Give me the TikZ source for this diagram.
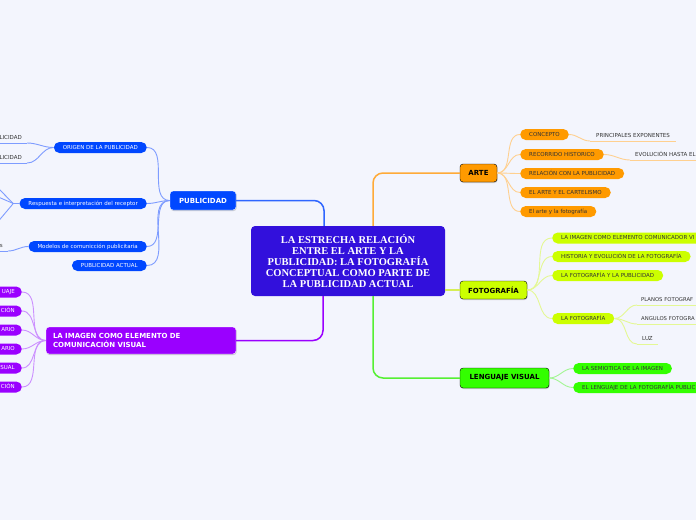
\documentclass[tikz,border=0pt]{standalone}
\usepackage{fontspec}
\setmainfont{DejaVu Sans}
\newfontfamily\titlefont{Liberation Serif}
\usetikzlibrary{shadows}
\definecolor{bg}{HTML}{F3F5FD}
\definecolor{cen}{HTML}{3210DC}
\definecolor{pubblue}{HTML}{0047FF}
\definecolor{pubconn}{HTML}{7E9CFF}
\definecolor{pubmain}{HTML}{2F66FF}
\definecolor{purp}{HTML}{9A00FF}
\definecolor{purpconn}{HTML}{CC90FF}
\definecolor{orng}{HTML}{FF9A00}
\definecolor{orngconn}{HTML}{FFD08F}
\definecolor{orngmain}{HTML}{FFAA38}
\definecolor{lime}{HTML}{CCFF00}
\definecolor{limeconn}{HTML}{E4F894}
\definecolor{limemain}{HTML}{D6EE55}
\definecolor{grn}{HTML}{33FF00}
\definecolor{grnconn}{HTML}{A2F592}
\definecolor{grnmain}{HTML}{55F033}
\definecolor{txt}{HTML}{333333}
\begin{document}
\begin{tikzpicture}[x=1pt,y=-1pt,
  centerbox/.style={fill=cen, text=white, minimum width=194pt, minimum height=70pt,
    rounded corners=4pt, align=center, inner sep=0pt,
    font=\titlefont\bfseries\fontsize{10.5}{11.2}\selectfont},
  mainbox/.style={rounded corners=3pt, inner sep=0pt,
    font=\fontsize{7}{8.5}\selectfont\bfseries,
    drop shadow={opacity=0.35, shadow xshift=0.6pt, shadow yshift=-1pt}},
  pill/.style={rounded corners=5.5pt, minimum height=11pt, inner xsep=9pt, inner ysep=0pt,
    font=\fontsize{5.5}{6}\selectfont, text height=4pt, text depth=1pt},
  leaf/.style={font=\fontsize{5.5}{6}\selectfont, text=txt, inner xsep=5pt, inner ysep=2.5pt,
    text height=4pt, text depth=1pt},
  mainconn/.style={line width=1.5pt, rounded corners=10pt},
  subconn/.style={line width=0.9pt},
  ul/.style={line width=1pt}
]
\useasboundingbox (0,0) rectangle (696,520);
\fill[bg] (0,0) rectangle (696,520);
\clip (0,0) rectangle (696,520);

% ---------- central ----------
\node[centerbox] (c) at (348,261) {LA ESTRECHA RELACIÓN\\ENTRE EL ARTE Y LA\\PUBLICIDAD: LA FOTOGRAFÍA\\CONCEPTUAL COMO PARTE DE\\LA PUBLICIDAD ACTUAL};

% ---------- main nodes ----------
\node[mainbox, fill=pubblue, text=white, draw=white, minimum width=66pt, minimum height=19pt] (pub) at (203,200.5) {PUBLICIDAD};
\node[mainbox, fill=purp, text=white, draw=white, minimum width=190pt, minimum height=27pt, text width=176pt, align=left] (img) at (141,340.5) {LA IMAGEN COMO ELEMENTO DE\\COMUNICACIÓN VISUAL};
\node[mainbox, fill=orng, draw=black, minimum width=37pt, minimum height=18pt] (arte) at (478.5,173) {ARTE};
\node[mainbox, fill=lime, draw=black, minimum width=67pt, minimum height=18pt] (foto) at (493.5,290) {FOTOGRAFÍA};
\node[mainbox, fill=grn, draw=black, minimum width=89pt, minimum height=20pt] (leng) at (504.5,378) {LENGUAJE VISUAL};

% ---------- main connectors ----------
\draw[mainconn, pubmain] ([xshift=-24pt]c.north) |- (pub.east);
\draw[mainconn, purp] ([xshift=-25pt]c.south) |- (img.east);
\draw[mainconn, orngmain] ([xshift=25pt]c.north) |- (arte.west);
\draw[mainconn, grnmain] ([xshift=25pt]c.south) |- (leng.west);
\draw[mainconn, limemain] (c.east |- foto.west) -- (foto.west);

% ---------- PUBLICIDAD children ----------
\node[pill, fill=pubblue, text=white, anchor=east] (p1) at (147,147.5) {ORIGEN DE LA PUBLICIDAD};
\node[pill, fill=pubblue, text=white, anchor=east] (p2) at (147,203.5) {Respuesta e interpretación del receptor};
\node[pill, fill=pubblue, text=white, anchor=east] (p3) at (147,246.5) {Modelos de comunicción publicitaria};
\node[pill, fill=pubblue, text=white, anchor=east] (p4) at (147,265.5) {PUBLICIDAD ACTUAL};
\foreach \n in {p1,p2,p3,p4}
  \draw[subconn, pubconn] (pub.west) to[out=180,in=0] (\n.east);

\node[leaf, anchor=south east, text width=40pt, align=right] (l1) at (27,143) {LICIDAD};
\node[leaf, anchor=south east, text width=40pt, align=right] (l2) at (27,163) {LICIDAD};
\node[leaf, anchor=south east, text width=20pt, align=right] (l3) at (8,251) {s};
\foreach \n in {l1,l2,l3}
  \draw[ul, pubconn] (\n.south west) -- (\n.south east);
\draw[subconn, pubconn] (p1.west) to[out=180,in=0] (l1.south east);
\draw[subconn, pubconn] (p1.west) to[out=180,in=0] (l2.south east);
\draw[subconn, pubconn] (p3.west) to[out=180,in=0] (l3.south east);
\coordinate (r1) at (-4,186);
\coordinate (r2) at (-4,196);
\coordinate (r3) at (-4,224);
\coordinate (rj) at ([xshift=-6pt]p2.west);
\draw[subconn, pubconn] (p2.west) -- (rj) -- (r1);
\draw[subconn, pubconn] (rj) -- (r2);
\draw[subconn, pubconn] (rj) -- (r3);

% ---------- LA IMAGEN children ----------
\node[pill, fill=purp, text=white, anchor=east, text width=40pt, align=right, inner xsep=7pt] (i1) at (22,292) {UAJE};
\node[pill, fill=purp, text=white, anchor=east, text width=40pt, align=right, inner xsep=7pt] (i2) at (22,311) {CIÓN};
\node[pill, fill=purp, text=white, anchor=east, text width=40pt, align=right, inner xsep=7pt] (i3) at (22,330) {ARIO};
\node[pill, fill=purp, text=white, anchor=east, text width=40pt, align=right, inner xsep=7pt] (i4) at (22,349) {ARIO};
\node[pill, fill=purp, text=white, anchor=east, text width=40pt, align=right, inner xsep=7pt] (i5) at (22,368) {SUAL};
\node[pill, fill=purp, text=white, anchor=east, text width=40pt, align=right, inner xsep=7pt] (i6) at (22,387) {CIÓN};
\foreach \n in {i1,i2,i3,i4,i5,i6}
  \draw[subconn, purpconn] (img.west) to[out=180,in=0] (\n.east);

% ---------- ARTE children ----------
\node[pill, fill=orng, text=txt, anchor=west] (a1) at (520,134.5) {CONCEPTO};
\node[pill, fill=orng, text=txt, anchor=west] (a2) at (520,154.5) {RECORRIDO HISTORICO};
\node[pill, fill=orng, text=txt, anchor=west] (a3) at (520,173.5) {RELACIÓN CON LA PUBLICIDAD};
\node[pill, fill=orng, text=txt, anchor=west] (a4) at (520,192.5) {EL ARTE Y EL CARTELISMO};
\node[pill, fill=orng, text=txt, anchor=west] (a5) at (520,211.5) {El arte y la fotografía};
\foreach \n in {a1,a2,a3,a4,a5}
  \draw[subconn, orngconn] (arte.east) to[out=0,in=180] (\n.west);
\node[leaf, anchor=south west, inner xsep=6pt] (la1) at (590,141) {PRINCIPALES EXPONENTES};
\node[leaf, anchor=south west, text width=70pt, align=left] (la2) at (630,160) {EVOLUCIÓN HASTA EL};
\foreach \n in {la1,la2}
  \draw[ul, orngconn] (\n.south west) -- (\n.south east);
\draw[subconn, orngconn] (a1.east) to[out=0,in=180] (la1.south west);
\draw[subconn, orngconn] (a2.east) to[out=0,in=180] (la2.south west);

% ---------- FOTOGRAFIA children ----------
\node[pill, fill=lime, text=txt, anchor=west, text width=150pt, align=left] (f1) at (552,238) {LA IMAGEN COMO ELEMENTO COMUNICADOR VI};
\node[pill, fill=lime, text=txt, anchor=west] (f2) at (552,256.5) {HISTORIA Y EVOLUCIÓN DE LA FOTOGRAFÍA};
\node[pill, fill=lime, text=txt, anchor=west] (f3) at (552,275.5) {LA FOTOGRAFÍA Y LA PUBLICIDAD};
\node[pill, fill=lime, text=txt, anchor=west] (f4) at (552,318.5) {LA FOTOGRAFÍA};
\foreach \n in {f1,f2,f3,f4}
  \draw[subconn, limeconn] (foto.east) to[out=0,in=180] (\n.west);
\node[leaf, anchor=south west, inner xsep=4pt, text width=64pt, align=left, font=\fontsize{5.3}{6}\selectfont] (lf1) at (637,305) {PLANOS FOTOGRAF};
\node[leaf, anchor=south west, inner xsep=4pt, text width=64pt, align=left, font=\fontsize{5.3}{6}\selectfont] (lf2) at (637,324) {ANGULOS FOTOGRA};
\node[leaf, anchor=south west] (lf3) at (637,344) {LUZ};
\foreach \n in {lf1,lf2,lf3}{
  \draw[ul, limeconn] (\n.south west) -- (\n.south east);
  \draw[subconn, limeconn] (f4.east) to[out=0,in=180] (\n.south west);
}

% ---------- LENGUAJE VISUAL children ----------
\node[pill, fill=grn, text=txt, anchor=west] (g1) at (573,368.5) {LA SEMIOTICA DE LA IMAGEN};
\node[pill, fill=grn, text=txt, anchor=west, text width=140pt, align=left] (g2) at (573,387.5) {EL LENGUAJE DE LA FOTOGRAFÍA PUBLIC};
\foreach \n in {g1,g2}
  \draw[subconn, grnconn] (leng.east) to[out=0,in=180] (\n.west);
\end{tikzpicture}
\end{document}
